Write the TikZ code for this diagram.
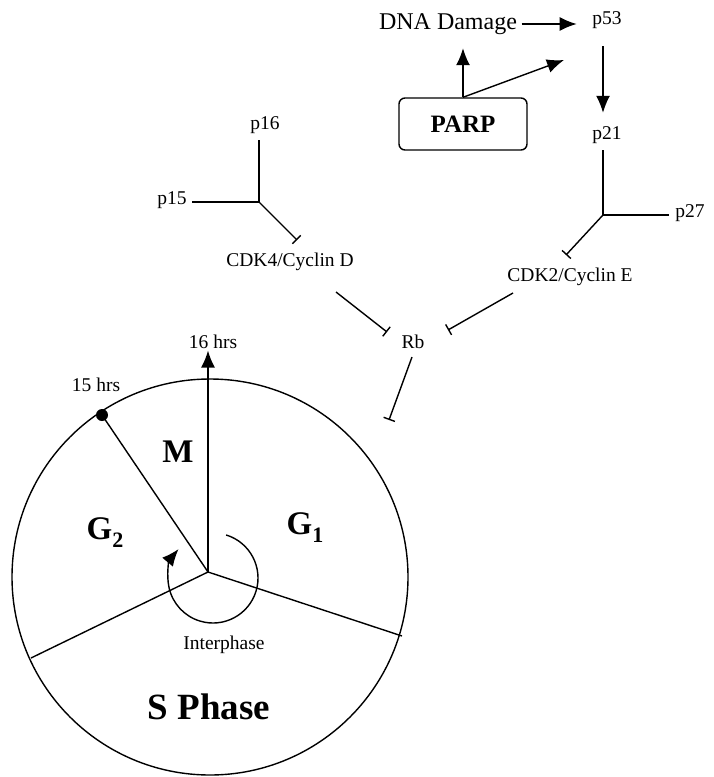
\documentclass[tikz,border=0pt]{standalone}
\usepackage{fontspec}
\setmainfont{Liberation Serif}
\usetikzlibrary{positioning,arrows.meta,calc}

\newcommand{\labfont}{\fontsize{19.5}{21}\selectfont}
\newcommand{\dnafont}{\fontsize{24}{26}\selectfont}
\newcommand{\phasefont}{\fontsize{33}{35}\selectfont\bfseries}
\newcommand{\phsub}[1]{\raisebox{-8pt}{\fontsize{22}{22}\selectfont #1}}

\begin{document}
\begin{tikzpicture}[x=1pt, y=-1pt, line width=1.4pt,
    act/.style={-{Latex[length=17pt,width=14pt]}},
    inh/.style={-{Bar[width=12pt]}},
    lab/.style={font=\labfont, inner sep=1pt},
    phase/.style={font=\phasefont, inner sep=1pt}]
    \useasboundingbox (0,0) rectangle (713,777);

    % pathway
    \node[font=\dnafont, inner sep=1pt] (dna) at (448,24) {DNA Damage};
    \node[lab] (p53) at (607,20) {p53};
    \node[draw, rounded corners=6pt, minimum width=128pt, minimum height=52pt,
          font=\fontsize{25}{27}\selectfont\bfseries] (parp) at (463,124) {PARP};
    \node[lab] (p21) at (607,135) {p21};
    \node[lab] (p16) at (265,125) {p16};
    \node[lab] (p15) at (172,200) {p15};
    \node[lab] (p27) at (690,213) {p27};
    \node[lab] (cdkd) at (290,262) {CDK4/Cyclin D};
    \node[lab] (cdke) at (570,277) {CDK2/Cyclin E};
    \node[lab] (rb) at (413,342) {Rb};

    \coordinate (jd) at (259,202);
    \coordinate (je) at (603,215);
    \coordinate (dbar) at (297,240);
    \coordinate (ebar) at (566,255);
    \coordinate (ptip) at (564,60);
    \coordinate (dout) at (336,292);
    \coordinate (rbl) at (387,332);
    \coordinate (eout) at (513,293);
    \coordinate (rbr) at (448,330);
    \coordinate (rbout) at (412,357);
    \coordinate (rbbar) at (389,420);

    \draw[act, shorten <=3pt, shorten >=14pt] (dna.east) -- (dna.east -| p53.west);
    \draw[act, shorten >=12pt] (parp.north) -- (parp.north |- dna.south);
    \draw[act] (parp.north) -- (ptip);
    \draw[act, shorten <=16pt, shorten >=12pt] (je |- p53.south) -- (je |- p21.north);

    \draw[shorten <=5pt] (p16.south -| jd) -- (jd);
    \draw[shorten <=4pt] (jd -| p15.east) -- (jd);
    \draw[inh] (jd) -- (dbar);
    \draw[shorten <=5pt] (je |- p21.south) -- (je);
    \draw[shorten >=5pt] (je) -- (je -| p27.west);
    \draw[inh] (je) -- (ebar);
    \draw[inh] (dout) -- (rbl);
    \draw[inh] (eout) -- (rbr);
    \draw[inh] (rbout) -- (rbbar);

    % cell cycle
    \coordinate (hub) at (208,572);
    \coordinate (s15) at (102,415);
    \draw (210,577) circle[radius=198];
    \draw (hub) -- (31,658);
    \draw (hub) -- (402,636);
    \draw (hub) -- (s15);
    \fill (s15) circle[radius=6];
    \node[lab] (h16) at (213,342) {16 hrs};
    \node[lab] (h15) at (96,385) {15 hrs};
    \draw[act] (hub) -- (hub |- h16.south);
    \draw[act] ([shift={(-73:45)}]213,578) arc[start angle=-73, end angle=220, radius=45];

    \node[phase] (m) at (178,452) {M};
    \node[phase] (g2) at (105,533) {G\phsub{2}};
    \node[phase] (g1) at (305,528) {G\phsub{1}};
    \node[lab] (inter) at (224,645) {Interphase};
    \node[font=\fontsize{37}{39}\selectfont\bfseries, inner sep=1pt] (sph) at (209,707) {S Phase};
\end{tikzpicture}
\end{document}
